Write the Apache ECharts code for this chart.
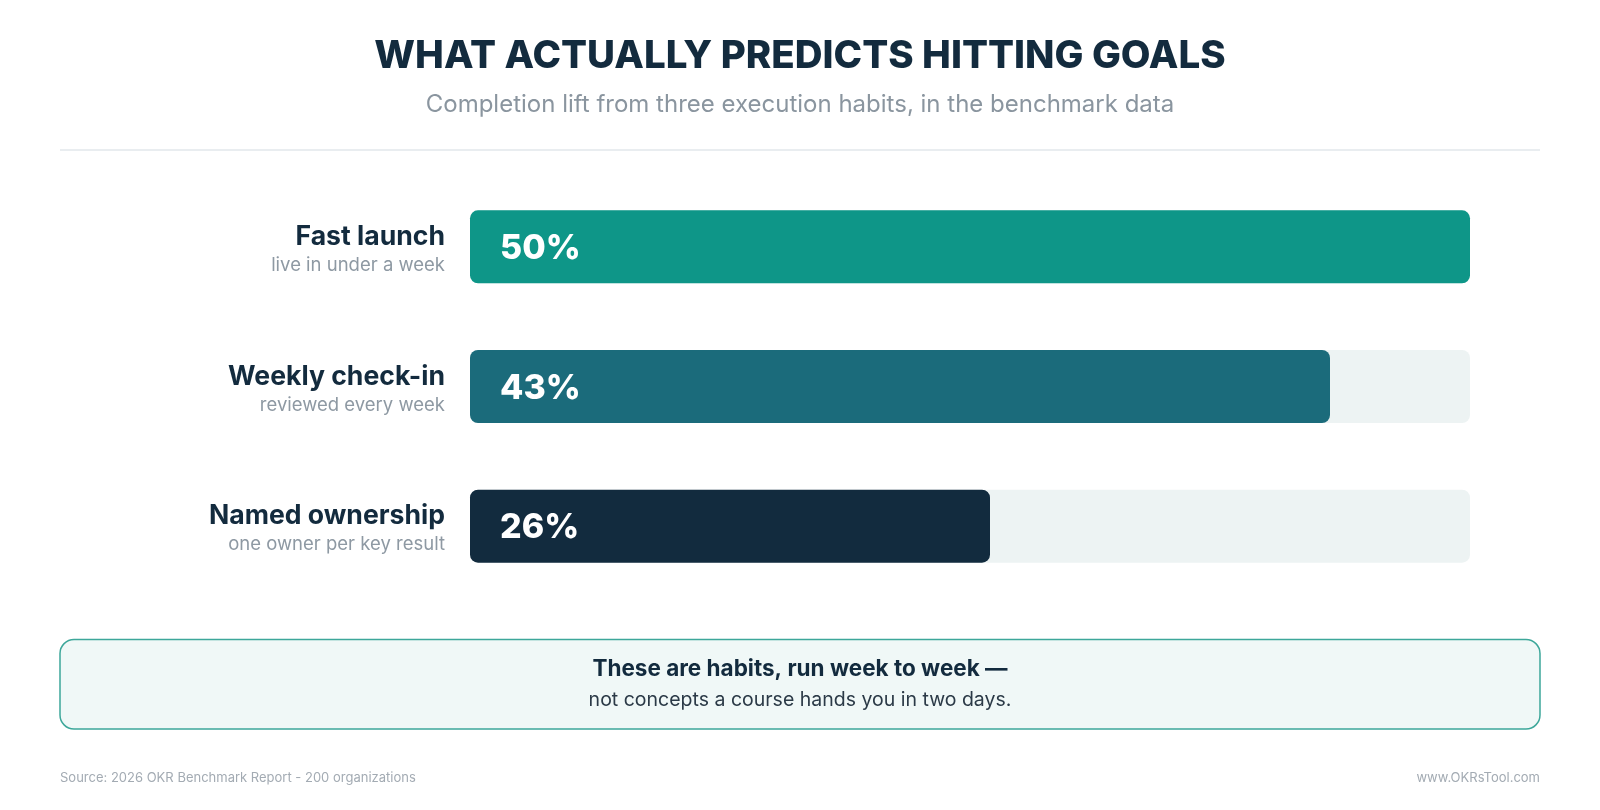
<!DOCTYPE html>
<html>
<head>
<meta charset="utf-8">
<script src="https://cdn.jsdelivr.net/npm/echarts@6/dist/echarts.min.js"></script>
<style>
html,body{margin:0;padding:0;background:#fff;}
#c{width:1600px;height:810px;}
</style>
</head>
<body>
<div id="c"></div>
<script>
const categories = ['Fast launch', 'Weekly check-in', 'Named ownership'];
const subtitles = ['live in under a week', 'reviewed every week', 'one owner per key result'];
const values = [50, 43, 26];
const barColors = ['#0E9688', '#1B6B7B', '#122B3E'];
const axisMax = 50;

const FONT = 'Inter, "Noto Sans", sans-serif';
const chart = echarts.init(document.getElementById('c'));

chart.setOption({
  backgroundColor: '#ffffff',
  animation: false,
  textStyle: { fontFamily: FONT },
  grid: { left: 470, right: 130, top: 177, bottom: 214 },
  xAxis: {
    type: 'value', min: 0, max: axisMax,
    show: false
  },
  yAxis: {
    type: 'category',
    data: categories,
    inverse: true,
    axisLine: { show: false },
    axisTick: { show: false },
    axisLabel: {
      margin: 25,
      align: 'right',
      formatter: function (v, i) {
        return '{n|' + v + '}\n{s|' + subtitles[i] + '}';
      },
      rich: {
        n: { fontFamily: FONT, fontSize: 26.6, fontWeight: 700, color: '#132B3E', lineHeight: 37, align: 'right' },
        s: { fontFamily: FONT, fontSize: 18.5, fontWeight: 400, color: '#8E99A3', lineHeight: 20, align: 'right' }
      }
    }
  },
  series: [{
    type: 'bar',
    data: values.map((v, i) => ({ value: v, itemStyle: { color: barColors[i] } })),
    barWidth: 73,
    showBackground: true,
    backgroundStyle: { color: '#EDF3F3', borderRadius: 8 },
    itemStyle: { borderRadius: 8 },
    label: {
      show: true,
      position: 'insideLeft',
      distance: 30,
      formatter: '{c}%',
      fontFamily: FONT,
      fontSize: 34,
      fontWeight: 800,
      color: '#ffffff',
      offset: [0, 2]
    }
  }],
  graphic: [
    { type: 'text', x: 800, y: 56,
      style: { text: 'WHAT ACTUALLY PREDICTS HITTING GOALS', fontFamily: FONT, fontSize: 38.5, fontWeight: 800,
        fill: '#132B3E', textAlign: 'center', textVerticalAlign: 'middle' } },
    { type: 'text', x: 800, y: 105,
      style: { text: 'Completion lift from three execution habits, in the benchmark data', fontFamily: FONT, fontSize: 24,
        fontWeight: 400, fill: '#8A959F', textAlign: 'center', textVerticalAlign: 'middle' } },
    { type: 'line', shape: { x1: 60, y1: 150, x2: 1540, y2: 150 }, style: { stroke: '#E2E7EB', lineWidth: 1.5 } },
    { type: 'rect', shape: { x: 60, y: 639.5, width: 1480, height: 89.5, r: 14 },
      style: { fill: '#F0F8F7', stroke: '#3DA79A', lineWidth: 1.5 } },
    { type: 'text', x: 800, y: 669,
      style: { text: 'These are habits, run week to week —', fontFamily: FONT, fontSize: 22.5, fontWeight: 700,
        fill: '#132B3E', textAlign: 'center', textVerticalAlign: 'middle' } },
    { type: 'text', x: 800, y: 700,
      style: { text: 'not concepts a course hands you in two days.', fontFamily: FONT, fontSize: 19.5, fontWeight: 400,
        fill: '#2B3A47', textAlign: 'center', textVerticalAlign: 'middle' } },
    { type: 'text', x: 60, y: 778,
      style: { text: 'Source: 2026 OKR Benchmark Report - 200 organizations', fontFamily: FONT, fontSize: 13,
        fill: '#A3ABB3', textAlign: 'left', textVerticalAlign: 'middle' } },
    { type: 'text', x: 1540, y: 778,
      style: { text: 'www.OKRsTool.com', fontFamily: FONT, fontSize: 13,
        fill: '#A3ABB3', textAlign: 'right', textVerticalAlign: 'middle' } }
  ]
});
</script>
</body>
</html>
